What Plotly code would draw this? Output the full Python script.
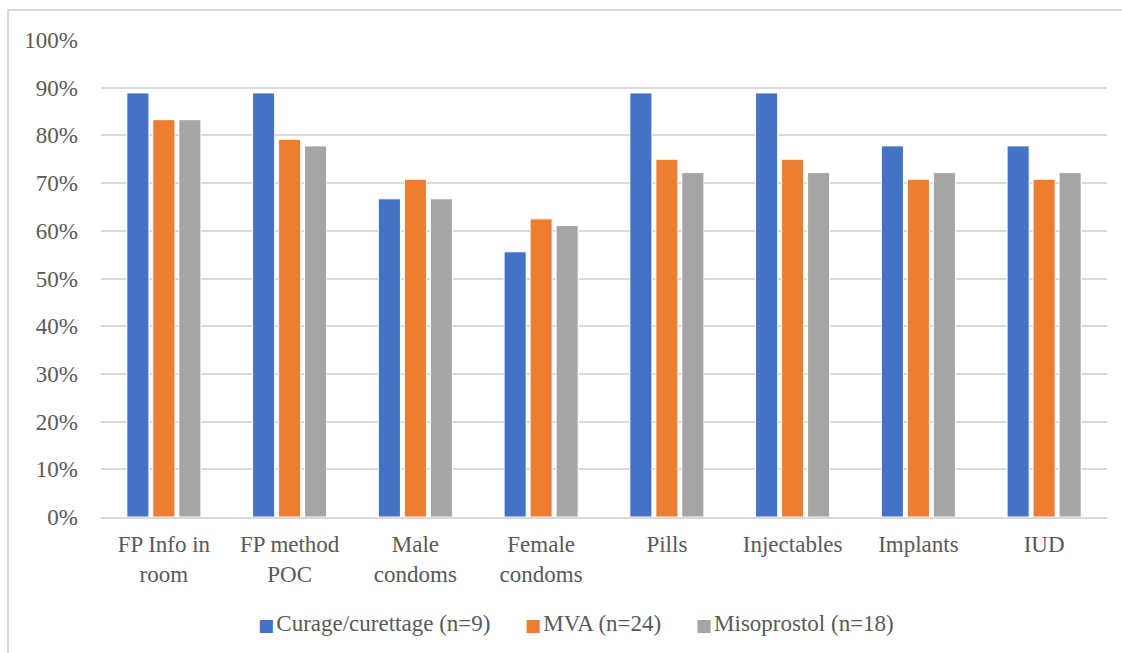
import plotly.graph_objects as go

categories = ["FP Info in<br>room", "FP method<br>POC", "Male<br>condoms", "Female<br>condoms",
              "Pills", "Injectables", "Implants", "IUD"]
curage = [88.9, 88.9, 66.7, 55.6, 88.9, 88.9, 77.8, 77.8]
mva = [83.3, 79.2, 70.8, 62.5, 75.0, 75.0, 70.8, 70.8]
misoprostol = [83.3, 77.8, 66.7, 61.1, 72.2, 72.2, 72.2, 72.2]
series_names = ["Curage/curettage (n=9)", "MVA (n=24)", "Misoprostol (n=18)"]
colors = ["#4472C4", "#ED7D31", "#A5A5A5"]
y_ticks = list(range(0, 101, 10))

W, H = 1122, 653
L, R, T, B = 101, 15, 40, 136
plot_w, plot_h = W - L - R, H - T - B

font_family = "Liberation Serif, Times New Roman, serif"
text_color = "#595959"
fs = 23

fig = go.Figure()
for name, vals, col in zip(series_names, [curage, mva, misoprostol], colors):
    fig.add_trace(go.Bar(
        x=categories, y=vals, name=name, showlegend=False,
        marker=dict(color=col, line=dict(color="white", width=1)),
    ))

# outer chart frame (left and top edges visible)
fig.add_shape(type="rect", xref="paper", yref="paper",
              x0=(8 - L) / plot_w, x1=(1140 - L) / plot_w,
              y0=-(700 - (H - B)) / plot_h, y1=((H - B) - 10) / plot_h,
              line=dict(color="#D9D9D9", width=2), layer="below")

# legend row built from the series names and colours
gap = "&nbsp;" * 6
thin = "<span style='font-size:9px'>&nbsp;</span>"
legend_text = gap.join(
    f"<span style='color:{c};font-size:17px;font-family:DejaVu Sans'>■</span>{thin}{n}"
    for n, c in zip(series_names, colors)
)
fig.add_annotation(xref="paper", yref="paper",
                   x=(576 - L) / plot_w, y=-(623 - (H - B)) / plot_h,
                   xanchor="center", yanchor="middle", showarrow=False,
                   text=legend_text, font=dict(size=fs, color=text_color))

fig.update_layout(
    width=W, height=H,
    margin=dict(l=L, r=R, t=T, b=B),
    paper_bgcolor="white", plot_bgcolor="white",
    barmode="group", bargap=0.38, bargroupgap=0.15,
    font=dict(family=font_family, size=fs, color=text_color),
    showlegend=False,
    xaxis=dict(showgrid=False, showline=True, linecolor="#D9D9D9", linewidth=2,
               ticks="", tickfont=dict(size=fs, color=text_color),
               ticklabelstandoff=5),
    yaxis=dict(range=[0, 100], tickvals=y_ticks,
               ticktext=[f"{v}%" for v in y_ticks],
               showgrid=True, gridcolor="#D9D9D9", gridwidth=1.5,
               zeroline=False, ticks="", ticklabelstandoff=22,
               tickfont=dict(size=fs, color=text_color)),
)

fig.write_html("out.html")
